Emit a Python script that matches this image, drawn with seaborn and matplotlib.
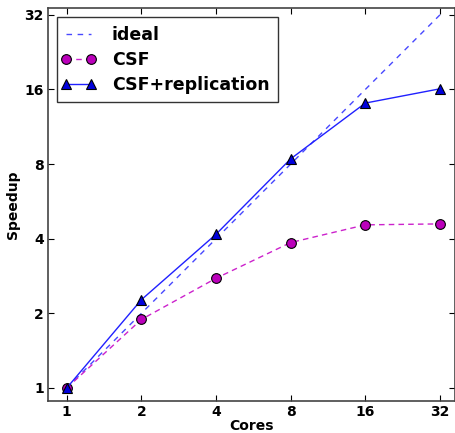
import matplotlib
matplotlib.use("Agg")
import matplotlib.pyplot as plt
import seaborn as sns
import pandas as pd
from matplotlib.lines import Line2D
from matplotlib.legend_handler import HandlerLine2D
from matplotlib.ticker import FixedLocator, NullLocator

cores = [1, 2, 4, 8, 16, 32]
ideal = [1, 2, 4, 8, 16, 32]
csf = [1.0, 1.89, 2.77, 3.86, 4.55, 4.59]
csf_rep = [1.0, 2.27, 4.17, 8.4, 14.1, 16.1]
tick_labels = ["1", "2", "4", "8", "16", "32"]

sns.set_style("white")
plt.rcParams["font.family"] = ["DejaVu Sans"]
plt.rcParams["font.weight"] = "bold"
plt.rcParams["text.color"] = "black"
plt.rcParams["axes.labelcolor"] = "black"

fig = plt.figure(figsize=(4.55, 4.33), dpi=100)
ax = fig.add_axes([48 / 455, 32 / 433, 407 / 455, 393 / 433])

df_ideal = pd.DataFrame({"Cores": cores, "Speedup": ideal})
df_csf = pd.DataFrame({"Cores": cores, "Speedup": csf})
df_rep = pd.DataFrame({"Cores": cores, "Speedup": csf_rep})

sns.lineplot(data=df_ideal, x="Cores", y="Speedup", ax=ax, color="#4848ff",
             linestyle=(0, (4, 4)), linewidth=1.0, label="ideal")
sns.lineplot(data=df_csf, x="Cores", y="Speedup", ax=ax, color="#cc22cc",
             linestyle=(0, (4, 3)), linewidth=1.0, marker="o", markersize=7,
             markerfacecolor="#bb00bb", markeredgecolor="black", markeredgewidth=0.8,
             label="CSF")
sns.lineplot(data=df_rep, x="Cores", y="Speedup", ax=ax, color="#2020ff",
             linewidth=1.0, marker="^", markersize=7.5,
             markerfacecolor="#0000dd", markeredgecolor="black", markeredgewidth=0.8,
             label="CSF+replication")

ax.set_xscale("log", base=2)
ax.set_yscale("log", base=2)
ax.set_xlim(0.84, 36.8)
ax.set_ylim(0.886, 34.1)
ax.xaxis.set_major_locator(FixedLocator(cores))
ax.yaxis.set_major_locator(FixedLocator(cores))
ax.xaxis.set_minor_locator(NullLocator())
ax.yaxis.set_minor_locator(NullLocator())
ax.set_xticklabels(tick_labels, fontsize=10, fontweight="bold")
ax.set_yticklabels(tick_labels, fontsize=10, fontweight="bold")
ax.tick_params(direction="in", length=4, width=0.8, top=True, right=True,
               bottom=True, left=True, pad=3, colors="black")
for s in ax.spines.values():
    s.set_color("#444444")
    s.set_linewidth(1.2)

ax.set_xlabel("Cores", fontsize=10, fontweight="bold", labelpad=0)
ax.set_ylabel("Speedup", fontsize=10, fontweight="bold", labelpad=3)

leg = ax.legend(loc="upper left", fontsize=12.5, frameon=True, fancybox=False,
                numpoints=2, handlelength=1.45, handletextpad=1.2,
                borderpad=0.5, labelspacing=0.4,
                bbox_to_anchor=(0.0, 1.0), borderaxespad=0.52,
                handler_map={Line2D: HandlerLine2D(marker_pad=0)})
leg.get_frame().set_edgecolor("black")
leg.get_frame().set_linewidth(1.0)
for t in leg.get_texts():
    t.set_fontweight("bold")

fig.savefig("out.png", dpi=100)
